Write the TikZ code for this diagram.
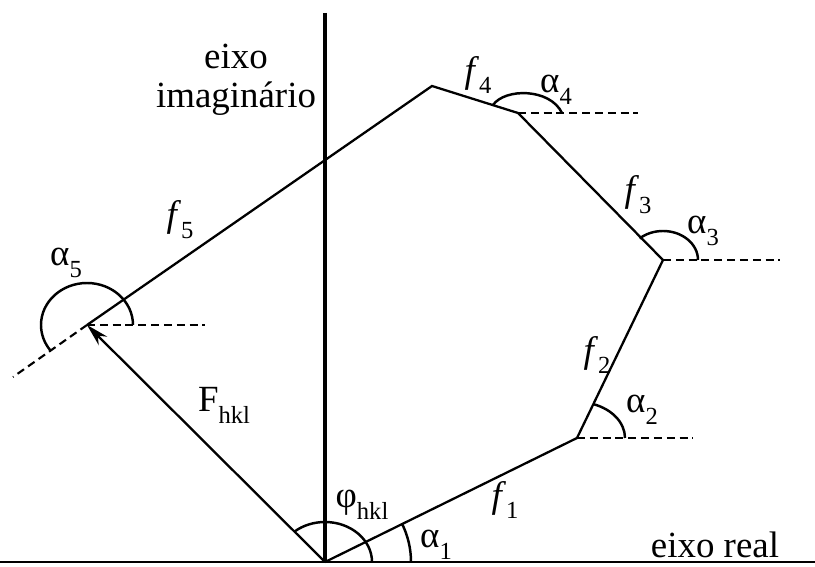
\documentclass[tikz,border=0pt]{standalone}
\usepackage{fontspec}
\setmainfont{Liberation Serif}
\usetikzlibrary{arrows.meta}
\newcommand{\idx}[1]{\raisebox{-0.7ex}{\fontsize{14}{14}\selectfont #1}}
\begin{document}
\begin{tikzpicture}[>={Stealth[length=4.5mm,width=2.4mm]}, font=\fontsize{21}{22}\selectfont,
  side/.style={line width=1.3pt},
  ang/.style={line width=1.4pt},
  ref/.style={line width=1.2pt, dash pattern=on 4.5pt off 2.8pt},
  lbl/.style={inner sep=0pt}]
  \useasboundingbox (0,0) rectangle (16.3,11.34);
  % axes
  \coordinate (re0) at (0,0.10);
  \coordinate (re1) at (16.3,0.10);
  \coordinate (im) at (6.50,11.08);
  \coordinate (O) at (6.50,0.10);
  \draw[line width=1.4pt] (re0) -- (re1);
  \draw[line width=2pt] (im) -- (O);
  % vertices
  \coordinate (P1) at (11.54,2.58);
  \coordinate (P2) at (13.26,6.14);
  \coordinate (P3) at (10.36,9.08);
  \coordinate (P4) at (8.64,9.62);
  \coordinate (P5) at (1.74,4.84);
  \draw[side] (O) -- (P1) -- (P2) -- (P3) -- (P4) -- (P5);
  \draw[side,->] (O) -- (P5);
  % horizontal references
  \coordinate (h1) at (13.86,2.58);
  \coordinate (h2) at (15.60,6.14);
  \coordinate (h3) at (12.76,9.08);
  \coordinate (h5) at (4.10,4.84);
  \coordinate (ext) at (0.26,3.80);
  \draw[ref] (P1) -- (h1);
  \draw[ref] (P2) -- (h2);
  \draw[ref] (P3) -- (h3);
  \draw[ref] (P5) -- (h5);
  \draw[ref] (P5) -- (ext);
  % angles
  \draw[ang] ([shift={(0:0.94)}]O) arc[start angle=0, end angle=130.4, x radius=0.94, y radius=0.80];
  \draw[ang] ([shift={(0:1.72)}]O) arc[start angle=0, end angle=26.4, radius=1.72];
  \draw[ang] ([shift={(0:0.96)}]P1) arc[start angle=0, end angle=70, x radius=0.96, y radius=0.72];
  \draw[ang] ([shift={(0:0.70)}]P2) arc[start angle=0, end angle=132, x radius=0.70, y radius=0.58];
  \draw[ang] (9.86,9.24) .. controls (10.10,9.58) and (11.00,9.58) .. (11.24,9.08);
  \draw[ang] ([shift={(0:0.92)}]P5) arc[start angle=0, end angle=217.2, x radius=0.92, y radius=0.84];
  % labels
  \node[lbl, align=center] (eim) at (4.72,9.74) {eixo\\imaginário};
  \node[lbl] (ere) at (14.30,0.44) {eixo real};
  \node[lbl] (Fh) at (4.48,3.24) {F\idx{hkl}};
  \node[lbl] (ph) at (7.24,1.24) {φ\idx{hkl}};
  \node[lbl] (f1) at (10.10,1.34) {\textit{f}\idx{1}};
  \node[lbl] (f2) at (11.94,4.24) {\textit{f}\idx{2}};
  \node[lbl] (f3) at (12.76,7.44) {\textit{f}\idx{3}};
  \node[lbl] (f4) at (9.56,9.84) {\textit{f}\idx{4}};
  \node[lbl] (f5) at (3.60,6.94) {\textit{f}\idx{5}};
  \node[lbl] (a1) at (8.72,0.44) {α\idx{1}};
  \node[lbl] (a2) at (12.84,3.14) {α\idx{2}};
  \node[lbl] (a3) at (14.06,6.72) {α\idx{3}};
  \node[lbl] (a4) at (11.12,9.54) {α\idx{4}};
  \node[lbl] (a5) at (1.32,6.08) {α\idx{5}};
\end{tikzpicture}
\end{document}
